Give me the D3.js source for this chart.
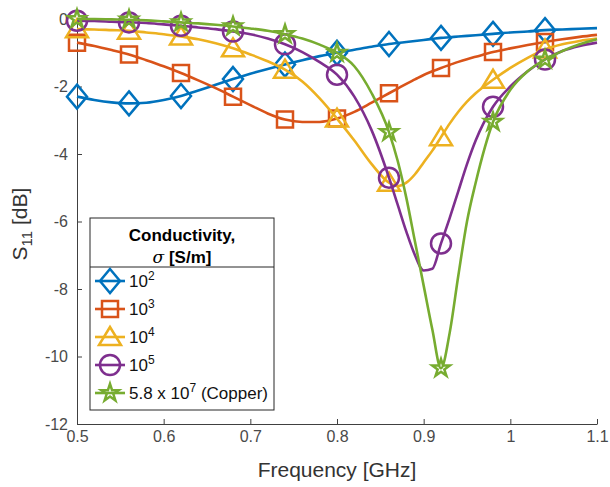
<!DOCTYPE html>
<html>
<head>
<meta charset="utf-8">
<script src="https://cdn.jsdelivr.net/npm/d3@7"></script>
<style>
  body { margin: 0; background: #fff; }
  text { font-family: "Liberation Sans", Arial, sans-serif; }
</style>
</head>
<body>
<svg id="chart"></svg>
<script>
// Dimensions
const width = 610;
const height = 487;
const margin = {left: 77, right: 13, top: 19, bottom: 63};

// Données (S11 en dB)
const freqs = [0.5, 0.52, 0.54, 0.56, 0.58, 0.60, 0.62, 0.64, 0.66, 0.68, 0.70, 0.72, 0.74, 0.76, 0.78, 0.80,
    0.82, 0.84, 0.86, 0.87, 0.88, 0.89, 0.90, 0.91, 0.92, 0.93, 0.94, 0.95, 0.96, 0.98, 1.00, 1.02, 1.04, 1.06, 1.08, 1.10];
const s11_1e2 = [-2.3, -2.4, -2.47, -2.5, -2.48, -2.4, -2.28, -2.12, -1.95, -1.78, -1.62, -1.48, -1.35, -1.22, -1.1, -1.0,
    -0.91, -0.82, -0.74, -0.71, -0.68, -0.65, -0.62, -0.59, -0.56, -0.54, -0.52, -0.5, -0.48, -0.44, -0.4, -0.37, -0.33, -0.31, -0.29, -0.27];
const s11_1e3 = [-0.7, -0.8, -0.92, -1.05, -1.22, -1.4, -1.6, -1.82, -2.05, -2.3, -2.55, -2.8, -2.98, -3.05, -3.05, -2.95,
    -2.75, -2.48, -2.2, -2.06, -1.92, -1.79, -1.66, -1.55, -1.45, -1.36, -1.27, -1.19, -1.12, -0.98, -0.87, -0.77, -0.68, -0.6, -0.53, -0.47];
const s11_1e4 = [-0.3, -0.31, -0.33, -0.35, -0.4, -0.45, -0.52, -0.6, -0.72, -0.87, -1.05, -1.25, -1.5, -1.85, -2.35, -2.95,
    -3.6, -4.3, -4.85, -4.95, -4.85, -4.6, -4.25, -3.9, -3.5, -3.1, -2.75, -2.45, -2.2, -1.8, -1.45, -1.15, -0.9, -0.75, -0.65, -0.58];
const s11_1e5 = [-0.05, -0.06, -0.08, -0.1, -0.12, -0.16, -0.2, -0.25, -0.3, -0.37, -0.45, -0.58, -0.75, -0.98, -1.28, -1.65,
    -2.3, -3.3, -4.7, -5.5, -6.3, -7.0, -7.45, -7.4, -6.65, -5.9, -5.1, -4.3, -3.6, -2.6, -2.0, -1.55, -1.2, -0.95, -0.8, -0.7];
const s11_cu = [0, 0, -0.01, -0.02, -0.04, -0.07, -0.1, -0.13, -0.17, -0.22, -0.28, -0.35, -0.45, -0.58, -0.76, -1.0,
    -1.4, -2.2, -3.35, -4.2, -5.3, -6.6, -7.9, -9.2, -10.35, -9.3, -7.6, -6.0, -4.85, -3.05, -2.1, -1.55, -1.2, -0.95, -0.75, -0.6];

// Fréquences où les marqueurs sont dessinés
const markerFreqs = [0.5, 0.56, 0.62, 0.68, 0.74, 0.80, 0.86, 0.92, 0.98, 1.04];

const xTicks = [0.5, 0.6, 0.7, 0.8, 0.9, 1, 1.1];
const yTicks = [0, -2, -4, -6, -8, -10, -12];

const seriesValues = [s11_1e2, s11_1e3, s11_1e4, s11_1e5, s11_cu];
const legendExp = ["2", "3", "4", "5", "7"];
const colors = ["#0072BD", "#D95319", "#EDB120", "#7E2F8E", "#77AC30"];
const markers = ["diamond", "square", "triangle", "circle", "star"];

// Formes des marqueurs (style MATLAB, non remplis)
function markerPath(type) {
    const p = d3.path();
    if (type === "diamond") {
        p.moveTo(0, -12); p.lineTo(10, 0); p.lineTo(0, 12); p.lineTo(-10, 0); p.closePath();
    } else if (type === "square") {
        p.rect(-8, -8, 16, 16);
    } else if (type === "triangle") {
        p.moveTo(0, -10); p.lineTo(11, 8); p.lineTo(-11, 8); p.closePath();
    } else if (type === "circle") {
        p.arc(0, 0, 10, 0, 2 * Math.PI);
    } else {
        return d3.symbol(d3.symbolStar, 95)();
    }
    return p.toString();
}

const x = d3.scaleLinear().domain([0.5, 1.1]).range([margin.left, width - margin.right]);
const y = d3.scaleLinear().domain([-12, 0]).range([height - margin.bottom, margin.top]);

const svg = d3.select("#chart")
    .attr("width", width)
    .attr("height", height);

// Axes (graduations vers l'intérieur)
const xAxis = svg.append("g")
    .attr("transform", `translate(0,${height - margin.bottom})`)
    .call(d3.axisBottom(x).tickValues(xTicks).tickFormat(d => String(d))
        .tickSizeInner(-5).tickSizeOuter(0).tickPadding(7));
const yAxis = svg.append("g")
    .attr("transform", `translate(${margin.left},0)`)
    .call(d3.axisLeft(y).tickValues(yTicks).tickFormat(d => String(d))
        .tickSizeInner(-5).tickSizeOuter(0).tickPadding(9));

[xAxis, yAxis].forEach(g => {
    g.select(".domain").attr("stroke", "#404040").attr("stroke-width", 1);
    g.selectAll(".tick line").attr("stroke", "#404040");
    g.selectAll(".tick text").attr("fill", "#4a4a4a").style("font-size", "16px")
        .style("font-family", "'Liberation Sans', Arial, sans-serif");
});

// Titres des axes
svg.append("text")
    .attr("x", x(0.8))
    .attr("y", 477)
    .attr("text-anchor", "middle")
    .attr("fill", "#333")
    .style("font-size", "21px")
    .text("Frequency [GHz]");

const yLabel = svg.append("text")
    .attr("transform", "translate(27,224) rotate(-90)")
    .attr("text-anchor", "middle")
    .attr("fill", "#333")
    .style("font-size", "21px");
yLabel.append("tspan").text("S");
yLabel.append("tspan").attr("dy", 5).style("font-size", "15px").text("11");
yLabel.append("tspan").attr("dy", -5).text(" [dB]");

// Courbes + marqueurs
const line = d3.line()
    .x(d => x(d[0]))
    .y(d => y(d[1]))
    .curve(d3.curveMonotoneX);

seriesValues.forEach((vals, i) => {
    const pts = freqs.map((f, j) => [f, vals[j]]);
    const g = svg.append("g");
    g.append("path")
        .attr("d", line(pts))
        .attr("fill", "none")
        .attr("stroke", colors[i])
        .attr("stroke-width", 2.6);
    g.selectAll("path.mk")
        .data(pts.filter(p => markerFreqs.some(m => Math.abs(m - p[0]) < 1e-6)))
        .enter()
        .append("path")
        .attr("class", "mk")
        .attr("d", markerPath(markers[i]))
        .attr("transform", d => `translate(${x(d[0])},${y(d[1])})`)
        .attr("fill", "none")
        .attr("stroke", colors[i])
        .attr("stroke-width", 2.5);
});

// Légende
const leg = svg.append("g");
leg.append("rect")
    .attr("x", 90).attr("y", 218).attr("width", 184).attr("height", 192)
    .attr("fill", "#fff").attr("stroke", "#262626").attr("stroke-width", 1);
leg.append("line")
    .attr("x1", 90).attr("x2", 274).attr("y1", 267).attr("y2", 267)
    .attr("stroke", "#262626");
leg.append("text")
    .attr("x", 182).attr("y", 241).attr("text-anchor", "middle")
    .style("font-size", "17px").style("font-weight", "bold")
    .text("Conductivity,");
const sub = leg.append("text")
    .attr("x", 182).attr("y", 263).attr("text-anchor", "middle")
    .style("font-size", "17px");
sub.append("tspan").style("font-style", "italic").style("font-family", "'DejaVu Serif', serif").text("σ");
sub.append("tspan").style("font-weight", "bold").text(" [S/m]");

const legendY = [281, 309, 337, 365, 393];
seriesValues.forEach((vals, i) => {
    const row = leg.append("g").attr("transform", `translate(0,${legendY[i]})`);
    row.append("line")
        .attr("x1", 95).attr("x2", 125)
        .attr("stroke", colors[i]).attr("stroke-width", 2.6);
    row.append("path")
        .attr("d", markerPath(markers[i]))
        .attr("transform", "translate(110,0)")
        .attr("fill", "none").attr("stroke", colors[i]).attr("stroke-width", 2.5);
    const t = row.append("text").attr("x", 129).attr("y", 6).style("font-size", "17px").attr("fill", "#111");
    t.append("tspan").text(i === 4 ? "5.8 x 10" : "10");
    t.append("tspan").attr("dy", -7).style("font-size", "12px").text(legendExp[i]);
    if (i === 4) t.append("tspan").attr("dy", 7).text(" (Copper)");
});
</script>
</body>
</html>
